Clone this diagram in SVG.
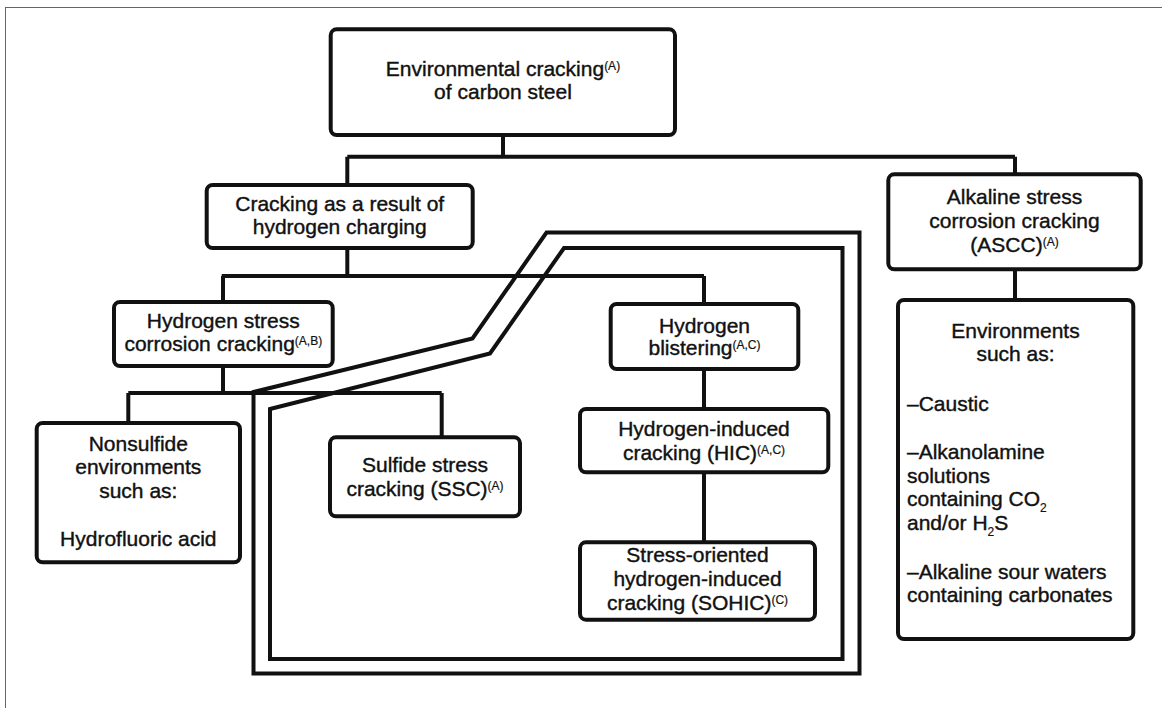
<svg xmlns="http://www.w3.org/2000/svg" width="1162" height="708" viewBox="0 0 1162 708">
<style>
.box{fill:#fff;stroke:#111;stroke-width:4}
.ln{fill:none;stroke:#111;stroke-width:4;stroke-linejoin:miter}
text{font-family:"Liberation Sans",Arial,sans-serif;font-size:21px;fill:#111;stroke:#111;stroke-width:0.4px}
.c{text-anchor:middle}
.sup{font-size:12px;stroke-width:0.2px}
</style>
<rect x="0" y="0" width="1162" height="708" fill="#fff"/>
<rect x="5.5" y="7.5" width="1170" height="720" fill="none" stroke="#666" stroke-width="1"/>
<g id="connectors">
<path class="ln" d="M503 135V156.7M347.3 156.7H1015M347.3 156.7V185M1015 156.7V174"/>
<path class="ln" d="M347.3 248V276M221.7 276H704M223 276V302M704 276V304"/>
<path class="ln" d="M223 366V393M128.3 393H441.7M128.3 393V423M441.7 393V437"/>
<path class="ln" d="M704 369V409M704 472V542"/>
<path class="ln" d="M1015 269V300"/>
</g>
<g id="frames">
<path class="ln" d="M253.5 392L472.5 338.5L546.5 232.5H859.5V673.5H253.5Z"/>
<path class="ln" d="M270 409L490 353.5L564 248H842.5V659H270Z"/>
</g>
<g id="n1">
<rect class="box" x="330.7" y="29.3" width="344.3" height="105.7" rx="6"/>
<text class="c" x="503" y="76">Environmental cracking<tspan class="sup" dy="-6">(A)</tspan></text>
<text class="c" x="503" y="98.5">of carbon steel</text>
</g>
<g id="n2">
<rect class="box" x="206.7" y="185" width="266" height="63" rx="6"/>
<text class="c" x="339.7" y="210.5">Cracking as a result of</text>
<text class="c" x="339.7" y="233.5">hydrogen charging</text>
</g>
<g id="n3">
<rect class="box" x="888.3" y="174.3" width="252.4" height="95" rx="6"/>
<text class="c" x="1014.5" y="204">Alkaline stress</text>
<text class="c" x="1014.5" y="228">corrosion cracking</text>
<text class="c" x="1014.5" y="251.7">(ASCC)<tspan class="sup" dy="-6">(A)</tspan></text>
</g>
<g id="n4">
<rect class="box" x="114" y="302" width="218.7" height="64" rx="6"/>
<text class="c" x="223.3" y="328.3">Hydrogen stress</text>
<text class="c" x="223.3" y="351">corrosion cracking<tspan class="sup" dy="-6">(A,B)</tspan></text>
</g>
<g id="n5">
<rect class="box" x="610.7" y="304" width="187.6" height="65" rx="6"/>
<text class="c" x="704.5" y="332.5">Hydrogen</text>
<text class="c" x="704.5" y="355">blistering<tspan class="sup" dy="-6">(A,C)</tspan></text>
</g>
<g id="n6">
<rect class="box" x="36.7" y="423" width="203.3" height="139.3" rx="6"/>
<text class="c" x="138.3" y="450.5">Nonsulfide</text>
<text class="c" x="138.3" y="474">environments</text>
<text class="c" x="138.3" y="497.5">such as:</text>
<text class="c" x="138.3" y="546">Hydrofluoric acid</text>
</g>
<g id="n7">
<rect class="box" x="330" y="437.3" width="190" height="79" rx="6"/>
<text class="c" x="425" y="472.3">Sulfide stress</text>
<text class="c" x="425" y="495.7">cracking (SSC)<tspan class="sup" dy="-6">(A)</tspan></text>
</g>
<g id="n8">
<rect class="box" x="580" y="409" width="248.3" height="63.3" rx="6"/>
<text class="c" x="704" y="435.5">Hydrogen-induced</text>
<text class="c" x="704" y="459.5">cracking (HIC)<tspan class="sup" dy="-6">(A,C)</tspan></text>
</g>
<g id="n9">
<rect class="box" x="580" y="542.3" width="235" height="77.4" rx="6"/>
<text class="c" x="697.5" y="562.3">Stress-oriented</text>
<text class="c" x="697.5" y="586.3">hydrogen-induced</text>
<text class="c" x="697.5" y="610">cracking (SOHIC)<tspan class="sup" dy="-6">(C)</tspan></text>
</g>
<g id="n10">
<rect class="box" x="898" y="300" width="235.3" height="339" rx="6"/>
<text class="c" x="1015.5" y="338">Environments</text>
<text class="c" x="1015.5" y="361">such as:</text>
<text x="907" y="410.5">–Caustic</text>
<text x="907" y="459">–Alkanolamine</text>
<text x="907" y="482.5">solutions</text>
<text x="907" y="506">containing CO<tspan class="sup" dy="6">2</tspan></text>
<text x="907" y="529.5">and/or H<tspan class="sup" dy="6">2</tspan><tspan dy="-6">S</tspan></text>
<text x="907" y="578.5">–Alkaline sour waters</text>
<text x="907" y="602">containing carbonates</text>
</g>
</svg>
